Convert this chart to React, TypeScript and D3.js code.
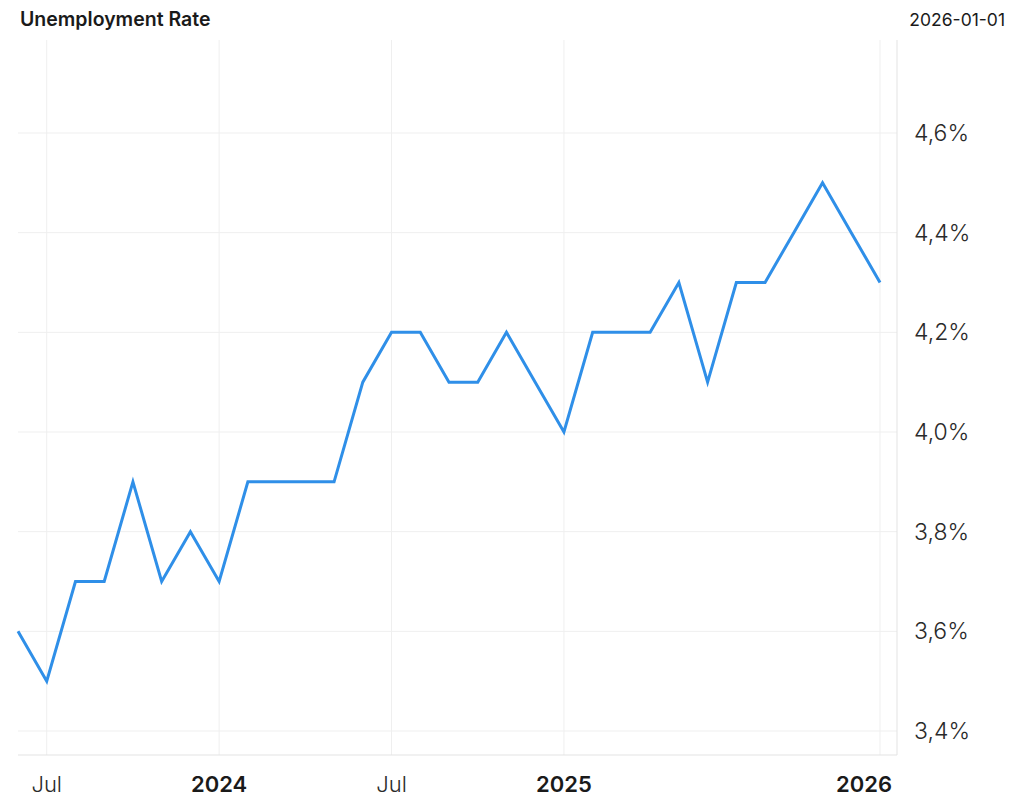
import React from "react";
import * as d3 from "d3";

const months: string[] = [
  "2023-06", "2023-07", "2023-08", "2023-09", "2023-10", "2023-11", "2023-12",
  "2024-01", "2024-02", "2024-03", "2024-04", "2024-05", "2024-06", "2024-07",
  "2024-08", "2024-09", "2024-10", "2024-11", "2024-12",
  "2025-01", "2025-02", "2025-03", "2025-04", "2025-05", "2025-06", "2025-07",
  "2025-08", "2025-09", "2025-11", "2025-12", "2026-01",
];
const rates: number[] = [
  3.6, 3.5, 3.7, 3.7, 3.9, 3.7, 3.8,
  3.7, 3.9, 3.9, 3.9, 3.9, 4.1, 4.2,
  4.2, 4.1, 4.1, 4.2, 4.1,
  4.0, 4.2, 4.2, 4.2, 4.3, 4.1, 4.3,
  4.3, 4.4, 4.5, 4.4, 4.3,
];
const yTicks: number[] = [3.4, 3.6, 3.8, 4.0, 4.2, 4.4, 4.6];
const xTickMonths: string[] = ["2023-07", "2024-01", "2024-07", "2025-01", "2026-01"];
const xTickLabels: string[] = ["Jul", "2024", "Jul", "2025", "2026"];
const xTickBold: boolean[] = [false, true, false, true, true];

const W = 1024;
const H = 810;
const left = 18;
const right = 897;
const top = 40;
const bottom = 755;
const FONT = "Inter, 'Noto Sans', sans-serif";

export default function App() {
  const x = d3.scaleLinear().domain([0, months.length - 1]).range([left, 880]);
  const y = d3.scaleLinear().domain([3.4, 4.6]).range([731, 133]);
  const line = d3
    .line<number>()
    .x((_, i) => x(i))
    .y((d) => y(d));
  const fmt = (v: number) => v.toFixed(1).replace(".", ",") + "%";

  return (
    <svg
      width={W}
      height={H}
      style={{ position: "absolute", left: 0, top: 0, background: "#fff" }}
    >
      <rect x={0} y={0} width={W} height={H} fill="#fff" />
      <text x={20} y={26} fontFamily={FONT} fontWeight={600} fontSize={19.5} fill="#1a1a1a">
        Unemployment Rate
      </text>
      <text x={1005} y={26} textAnchor="end" fontFamily={FONT} fontSize={17.5} fill="#1a1a1a">
        2026-01-01
      </text>
      {yTicks.map((t) => (
        <line key={"h" + t} x1={left} x2={right} y1={y(t)} y2={y(t)} stroke="#efefef" strokeWidth={1} />
      ))}
      {xTickMonths.map((m) => {
        const i = months.indexOf(m);
        return (
          <line key={"v" + m} x1={x(i)} x2={x(i)} y1={top} y2={bottom} stroke="#efefef" strokeWidth={1} />
        );
      })}
      <line x1={left} x2={right} y1={bottom} y2={bottom} stroke="#e3e3e3" strokeWidth={1} />
      <line x1={right} x2={right} y1={top} y2={bottom} stroke="#e3e3e3" strokeWidth={1} />
      <path d={line(rates) || ""} fill="none" stroke="#2f8fe8" strokeWidth={3} strokeLinejoin="miter" />
      {yTicks.map((t) => (
        <text
          key={"yl" + t}
          x={914}
          y={y(t)}
          dy="0.35em"
          fontFamily={FONT}
          fontSize={23}
          fontWeight={300}
          fill="#2a2a2a"
        >
          {fmt(t)}
        </text>
      ))}
      {xTickMonths.map((m, k) => {
        const i = months.indexOf(m);
        const last = k === xTickMonths.length - 1;
        return (
          <text
            key={"xl" + m}
            x={last ? 892 : x(i)}
            y={792}
            textAnchor={last ? "end" : "middle"}
            fontFamily={FONT}
            fontSize={22}
            fontWeight={xTickBold[k] ? 600 : 300}
            fill={xTickBold[k] ? "#1a1a1a" : "#2a2a2a"}
          >
            {xTickLabels[k]}
          </text>
        );
      })}
    </svg>
  );
}
